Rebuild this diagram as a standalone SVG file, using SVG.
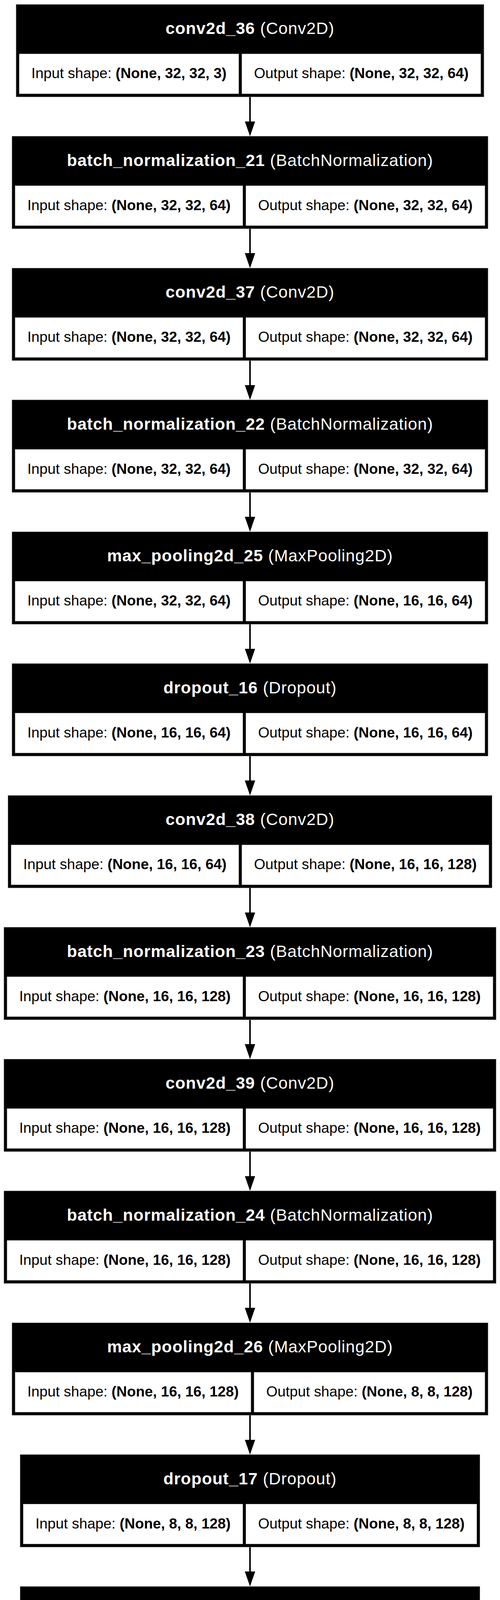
<svg xmlns="http://www.w3.org/2000/svg" width="1280" height="7685" viewBox="0 0 1280 7685">
<style>
.box{fill:#000;stroke:#777;stroke-width:0.8}
.cell{fill:#fff;stroke:#aaa;stroke-width:0.8}
.hd{font-family:"Liberation Sans",Arial,sans-serif;font-size:42.6px;fill:#fff;text-anchor:middle;letter-spacing:1px}
.tx{font-family:"Liberation Sans",Arial,sans-serif;font-size:37.3px;fill:#000;text-anchor:middle}
.b{font-weight:bold}
.edge{stroke:#000;stroke-width:4;fill:none;marker-end:url(#ah)}
</style>
<defs>
<marker id="ah" markerUnits="userSpaceOnUse" viewBox="0 0 39 28" markerWidth="39" markerHeight="28" refX="0.8" refY="14" orient="auto"><path d="M0,0.7 L38.3,14 L0,27.3 Z" fill="#000"/></marker>
</defs>
<rect width="1280" height="7685" fill="#fff"/>
<g id="connectors">
<path class="edge" d="M640 248V311.3"/>
<path class="edge" d="M640 585.5V648.8"/>
<path class="edge" d="M640 923V986.3"/>
<path class="edge" d="M640 1260.5V1323.8"/>
<path class="edge" d="M640 1598V1661.3"/>
<path class="edge" d="M640 1935.5V1998.8"/>
<path class="edge" d="M640 2273V2336.3"/>
<path class="edge" d="M640 2610.5V2673.8"/>
<path class="edge" d="M640 2948V3011.3"/>
<path class="edge" d="M640 3285.5V3348.8"/>
<path class="edge" d="M640 3623V3686.3"/>
<path class="edge" d="M640 3960.5V4023.8"/>
<path class="edge" d="M640 4298V4361.3"/>
<path class="edge" d="M640 4635.5V4698.8"/>
<path class="edge" d="M640 4973V5036.3"/>
<path class="edge" d="M640 5310.5V5373.8"/>
<path class="edge" d="M640 5648V5711.3"/>
<path class="edge" d="M640 5985.5V6048.8"/>
<path class="edge" d="M640 6323V6386.3"/>
<path class="edge" d="M640 6660.5V6723.8"/>
<path class="edge" d="M640 6998V7061.3"/>
<path class="edge" d="M640 7335.5V7398.8"/>
</g>

<g id="conv2d_36" transform="translate(0,11.3)">
<rect class="box" x="41.15" y="0" width="1197.7" height="236.7"/>
<text class="hd" x="640" y="76.2"><tspan class="b">conv2d_36</tspan> (Conv2D)</text>
<rect class="cell" x="49.15" y="126.7" width="561.97" height="102"/>
<rect class="cell" x="619.12" y="126.7" width="611.73" height="102"/>
<text class="tx" x="330.14" y="189">Input shape: <tspan class="b">(None, 32, 32, 3)</tspan></text>
<text class="tx" x="924.99" y="189">Output shape: <tspan class="b">(None, 32, 32, 64)</tspan></text>
</g>

<g id="batch_normalization_21" transform="translate(0,348.8)">
<rect class="box" x="30.78" y="0" width="1218.44" height="236.7"/>
<text class="hd" x="640" y="76.2"><tspan class="b">batch_normalization_21</tspan> (BatchNormalization)</text>
<rect class="cell" x="38.78" y="126.7" width="582.71" height="102"/>
<rect class="cell" x="629.49" y="126.7" width="611.73" height="102"/>
<text class="tx" x="330.14" y="189">Input shape: <tspan class="b">(None, 32, 32, 64)</tspan></text>
<text class="tx" x="935.36" y="189">Output shape: <tspan class="b">(None, 32, 32, 64)</tspan></text>
</g>

<g id="conv2d_37" transform="translate(0,686.3)">
<rect class="box" x="30.78" y="0" width="1218.44" height="236.7"/>
<text class="hd" x="640" y="76.2"><tspan class="b">conv2d_37</tspan> (Conv2D)</text>
<rect class="cell" x="38.78" y="126.7" width="582.71" height="102"/>
<rect class="cell" x="629.49" y="126.7" width="611.73" height="102"/>
<text class="tx" x="330.14" y="189">Input shape: <tspan class="b">(None, 32, 32, 64)</tspan></text>
<text class="tx" x="935.36" y="189">Output shape: <tspan class="b">(None, 32, 32, 64)</tspan></text>
</g>

<g id="batch_normalization_22" transform="translate(0,1023.8)">
<rect class="box" x="30.78" y="0" width="1218.44" height="236.7"/>
<text class="hd" x="640" y="76.2"><tspan class="b">batch_normalization_22</tspan> (BatchNormalization)</text>
<rect class="cell" x="38.78" y="126.7" width="582.71" height="102"/>
<rect class="cell" x="629.49" y="126.7" width="611.73" height="102"/>
<text class="tx" x="330.14" y="189">Input shape: <tspan class="b">(None, 32, 32, 64)</tspan></text>
<text class="tx" x="935.36" y="189">Output shape: <tspan class="b">(None, 32, 32, 64)</tspan></text>
</g>

<g id="max_pooling2d_25" transform="translate(0,1361.3)">
<rect class="box" x="30.78" y="0" width="1218.44" height="236.7"/>
<text class="hd" x="640" y="76.2"><tspan class="b">max_pooling2d_25</tspan> (MaxPooling2D)</text>
<rect class="cell" x="38.78" y="126.7" width="582.71" height="102"/>
<rect class="cell" x="629.49" y="126.7" width="611.73" height="102"/>
<text class="tx" x="330.14" y="189">Input shape: <tspan class="b">(None, 32, 32, 64)</tspan></text>
<text class="tx" x="935.36" y="189">Output shape: <tspan class="b">(None, 16, 16, 64)</tspan></text>
</g>

<g id="dropout_16" transform="translate(0,1698.8)">
<rect class="box" x="30.78" y="0" width="1218.44" height="236.7"/>
<text class="hd" x="640" y="76.2"><tspan class="b">dropout_16</tspan> (Dropout)</text>
<rect class="cell" x="38.78" y="126.7" width="582.71" height="102"/>
<rect class="cell" x="629.49" y="126.7" width="611.73" height="102"/>
<text class="tx" x="330.14" y="189">Input shape: <tspan class="b">(None, 16, 16, 64)</tspan></text>
<text class="tx" x="935.36" y="189">Output shape: <tspan class="b">(None, 16, 16, 64)</tspan></text>
</g>

<g id="conv2d_38" transform="translate(0,2036.3)">
<rect class="box" x="20.41" y="0" width="1239.18" height="236.7"/>
<text class="hd" x="640" y="76.2"><tspan class="b">conv2d_38</tspan> (Conv2D)</text>
<rect class="cell" x="28.41" y="126.7" width="582.71" height="102"/>
<rect class="cell" x="619.12" y="126.7" width="632.47" height="102"/>
<text class="tx" x="319.77" y="189">Input shape: <tspan class="b">(None, 16, 16, 64)</tspan></text>
<text class="tx" x="935.36" y="189">Output shape: <tspan class="b">(None, 16, 16, 128)</tspan></text>
</g>

<g id="batch_normalization_23" transform="translate(0,2373.8)">
<rect class="box" x="10.04" y="0" width="1259.92" height="236.7"/>
<text class="hd" x="640" y="76.2"><tspan class="b">batch_normalization_23</tspan> (BatchNormalization)</text>
<rect class="cell" x="18.04" y="126.7" width="603.45" height="102"/>
<rect class="cell" x="629.49" y="126.7" width="632.47" height="102"/>
<text class="tx" x="319.77" y="189">Input shape: <tspan class="b">(None, 16, 16, 128)</tspan></text>
<text class="tx" x="945.73" y="189">Output shape: <tspan class="b">(None, 16, 16, 128)</tspan></text>
</g>

<g id="conv2d_39" transform="translate(0,2711.3)">
<rect class="box" x="10.04" y="0" width="1259.92" height="236.7"/>
<text class="hd" x="640" y="76.2"><tspan class="b">conv2d_39</tspan> (Conv2D)</text>
<rect class="cell" x="18.04" y="126.7" width="603.45" height="102"/>
<rect class="cell" x="629.49" y="126.7" width="632.47" height="102"/>
<text class="tx" x="319.77" y="189">Input shape: <tspan class="b">(None, 16, 16, 128)</tspan></text>
<text class="tx" x="945.73" y="189">Output shape: <tspan class="b">(None, 16, 16, 128)</tspan></text>
</g>

<g id="batch_normalization_24" transform="translate(0,3048.8)">
<rect class="box" x="10.04" y="0" width="1259.92" height="236.7"/>
<text class="hd" x="640" y="76.2"><tspan class="b">batch_normalization_24</tspan> (BatchNormalization)</text>
<rect class="cell" x="18.04" y="126.7" width="603.45" height="102"/>
<rect class="cell" x="629.49" y="126.7" width="632.47" height="102"/>
<text class="tx" x="319.77" y="189">Input shape: <tspan class="b">(None, 16, 16, 128)</tspan></text>
<text class="tx" x="945.73" y="189">Output shape: <tspan class="b">(None, 16, 16, 128)</tspan></text>
</g>

<g id="max_pooling2d_26" transform="translate(0,3386.3)">
<rect class="box" x="30.78" y="0" width="1218.44" height="236.7"/>
<text class="hd" x="640" y="76.2"><tspan class="b">max_pooling2d_26</tspan> (MaxPooling2D)</text>
<rect class="cell" x="38.78" y="126.7" width="603.45" height="102"/>
<rect class="cell" x="650.23" y="126.7" width="590.99" height="102"/>
<text class="tx" x="340.51" y="189">Input shape: <tspan class="b">(None, 16, 16, 128)</tspan></text>
<text class="tx" x="945.73" y="189">Output shape: <tspan class="b">(None, 8, 8, 128)</tspan></text>
</g>

<g id="dropout_17" transform="translate(0,3723.8)">
<rect class="box" x="51.52" y="0" width="1176.96" height="236.7"/>
<text class="hd" x="640" y="76.2"><tspan class="b">dropout_17</tspan> (Dropout)</text>
<rect class="cell" x="59.52" y="126.7" width="561.97" height="102"/>
<rect class="cell" x="629.49" y="126.7" width="590.99" height="102"/>
<text class="tx" x="340.51" y="189">Input shape: <tspan class="b">(None, 8, 8, 128)</tspan></text>
<text class="tx" x="924.99" y="189">Output shape: <tspan class="b">(None, 8, 8, 128)</tspan></text>
</g>

<g id="conv2d_40" transform="translate(0,4061.3)">
<rect class="box" x="51.52" y="0" width="1176.96" height="236.7"/>
<text class="hd" x="640" y="76.2"><tspan class="b">conv2d_40</tspan> (Conv2D)</text>
<rect class="cell" x="59.52" y="126.7" width="561.97" height="102"/>
<rect class="cell" x="629.49" y="126.7" width="590.99" height="102"/>
<text class="tx" x="340.51" y="189">Input shape: <tspan class="b">(None, 8, 8, 128)</tspan></text>
<text class="tx" x="924.99" y="189">Output shape: <tspan class="b">(None, 8, 8, 128)</tspan></text>
</g>

<g id="batch_normalization_25" transform="translate(0,4398.8)">
<rect class="box" x="51.52" y="0" width="1176.96" height="236.7"/>
<text class="hd" x="640" y="76.2"><tspan class="b">batch_normalization_25</tspan> (BatchNormalization)</text>
<rect class="cell" x="59.52" y="126.7" width="561.97" height="102"/>
<rect class="cell" x="629.49" y="126.7" width="590.99" height="102"/>
<text class="tx" x="340.51" y="189">Input shape: <tspan class="b">(None, 8, 8, 128)</tspan></text>
<text class="tx" x="924.99" y="189">Output shape: <tspan class="b">(None, 8, 8, 128)</tspan></text>
</g>

<g id="conv2d_41" transform="translate(0,4736.3)">
<rect class="box" x="51.52" y="0" width="1176.96" height="236.7"/>
<text class="hd" x="640" y="76.2"><tspan class="b">conv2d_41</tspan> (Conv2D)</text>
<rect class="cell" x="59.52" y="126.7" width="561.97" height="102"/>
<rect class="cell" x="629.49" y="126.7" width="590.99" height="102"/>
<text class="tx" x="340.51" y="189">Input shape: <tspan class="b">(None, 8, 8, 128)</tspan></text>
<text class="tx" x="924.99" y="189">Output shape: <tspan class="b">(None, 8, 8, 128)</tspan></text>
</g>

<g id="batch_normalization_26" transform="translate(0,5073.8)">
<rect class="box" x="51.52" y="0" width="1176.96" height="236.7"/>
<text class="hd" x="640" y="76.2"><tspan class="b">batch_normalization_26</tspan> (BatchNormalization)</text>
<rect class="cell" x="59.52" y="126.7" width="561.97" height="102"/>
<rect class="cell" x="629.49" y="126.7" width="590.99" height="102"/>
<text class="tx" x="340.51" y="189">Input shape: <tspan class="b">(None, 8, 8, 128)</tspan></text>
<text class="tx" x="924.99" y="189">Output shape: <tspan class="b">(None, 8, 8, 128)</tspan></text>
</g>

<g id="max_pooling2d_27" transform="translate(0,5411.3)">
<rect class="box" x="51.52" y="0" width="1176.96" height="236.7"/>
<text class="hd" x="640" y="76.2"><tspan class="b">max_pooling2d_27</tspan> (MaxPooling2D)</text>
<rect class="cell" x="59.52" y="126.7" width="561.97" height="102"/>
<rect class="cell" x="629.49" y="126.7" width="590.99" height="102"/>
<text class="tx" x="340.51" y="189">Input shape: <tspan class="b">(None, 8, 8, 128)</tspan></text>
<text class="tx" x="924.99" y="189">Output shape: <tspan class="b">(None, 4, 4, 128)</tspan></text>
</g>

<g id="dropout_18" transform="translate(0,5748.8)">
<rect class="box" x="51.52" y="0" width="1176.96" height="236.7"/>
<text class="hd" x="640" y="76.2"><tspan class="b">dropout_18</tspan> (Dropout)</text>
<rect class="cell" x="59.52" y="126.7" width="561.97" height="102"/>
<rect class="cell" x="629.49" y="126.7" width="590.99" height="102"/>
<text class="tx" x="340.51" y="189">Input shape: <tspan class="b">(None, 4, 4, 128)</tspan></text>
<text class="tx" x="924.99" y="189">Output shape: <tspan class="b">(None, 4, 4, 128)</tspan></text>
</g>

<g id="flatten_11" transform="translate(0,6086.3)">
<rect class="box" x="82.63" y="0" width="1114.74" height="236.7"/>
<text class="hd" x="640" y="76.2"><tspan class="b">flatten_11</tspan> (Flatten)</text>
<rect class="cell" x="90.63" y="126.7" width="561.97" height="102"/>
<rect class="cell" x="660.6" y="126.7" width="528.77" height="102"/>
<text class="tx" x="371.62" y="189">Input shape: <tspan class="b">(None, 4, 4, 128)</tspan></text>
<text class="tx" x="924.99" y="189">Output shape: <tspan class="b">(None, 2048)</tspan></text>
</g>

<g id="dense_32" transform="translate(0,6423.8)">
<rect class="box" x="124.1" y="0" width="1031.79" height="236.7"/>
<text class="hd" x="640" y="76.2"><tspan class="b">dense_32</tspan> (Dense)</text>
<rect class="cell" x="132.1" y="126.7" width="499.75" height="102"/>
<rect class="cell" x="639.85" y="126.7" width="508.04" height="102"/>
<text class="tx" x="381.98" y="189">Input shape: <tspan class="b">(None, 2048)</tspan></text>
<text class="tx" x="893.87" y="189">Output shape: <tspan class="b">(None, 256)</tspan></text>
</g>

<g id="batch_normalization_27" transform="translate(0,6761.3)">
<rect class="box" x="134.47" y="0" width="1011.06" height="236.7"/>
<text class="hd" x="640" y="76.2"><tspan class="b">batch_normalization_27</tspan> (BatchNormalization)</text>
<rect class="cell" x="142.47" y="126.7" width="479.02" height="102"/>
<rect class="cell" x="629.49" y="126.7" width="508.04" height="102"/>
<text class="tx" x="381.98" y="189">Input shape: <tspan class="b">(None, 256)</tspan></text>
<text class="tx" x="883.51" y="189">Output shape: <tspan class="b">(None, 256)</tspan></text>
</g>

<g id="dropout_19" transform="translate(0,7098.8)">
<rect class="box" x="134.47" y="0" width="1011.06" height="236.7"/>
<text class="hd" x="640" y="76.2"><tspan class="b">dropout_19</tspan> (Dropout)</text>
<rect class="cell" x="142.47" y="126.7" width="479.02" height="102"/>
<rect class="cell" x="629.49" y="126.7" width="508.04" height="102"/>
<text class="tx" x="381.98" y="189">Input shape: <tspan class="b">(None, 256)</tspan></text>
<text class="tx" x="883.51" y="189">Output shape: <tspan class="b">(None, 256)</tspan></text>
</g>

<g id="dense_33" transform="translate(0,7436.3)">
<rect class="box" x="144.84" y="0" width="990.32" height="236.7"/>
<text class="hd" x="640" y="76.2"><tspan class="b">dense_33</tspan> (Dense)</text>
<rect class="cell" x="152.84" y="126.7" width="479.02" height="102"/>
<rect class="cell" x="639.86" y="126.7" width="487.3" height="102"/>
<text class="tx" x="381.98" y="189">Input shape: <tspan class="b">(None, 256)</tspan></text>
<text class="tx" x="883.51" y="189">Output shape: <tspan class="b">(None, 10)</tspan></text>
</g>
</svg>
